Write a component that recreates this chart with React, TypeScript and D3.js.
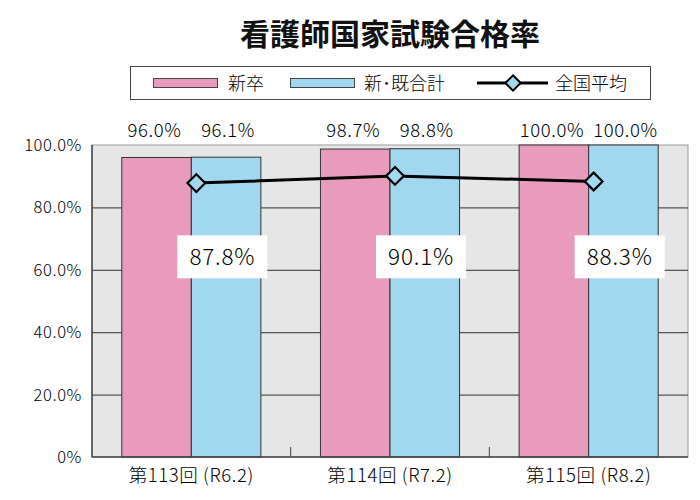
import { useEffect, useRef } from 'react'
import * as d3 from 'd3'

const categories = ['第113回 (R6.2)', '第114回 (R7.2)', '第115回 (R8.2)']
const shinsotsu = [96.0, 98.7, 100.0]
const goukei = [96.1, 98.8, 100.0]
const zenkoku = [87.8, 90.1, 88.3]
const yTicks = [0, 20, 40, 60, 80, 100]

const PINK = '#e89bbb'
const BLUE = '#a2d8ef'
const FONT = '"Noto Sans CJK JP", "Noto Sans", sans-serif'

export default function App() {
  const svgRef = useRef<SVGSVGElement>(null)

  useEffect(() => {
    if (!svgRef.current) return
    const svg = d3.select(svgRef.current)
    svg.selectAll('*').remove()

    const width = 700
    const height = 500
    const margin = { top: 145, right: 12, bottom: 43, left: 92 }
    const innerWidth = width - margin.left - margin.right
    const innerHeight = height - margin.top - margin.bottom

    svg.append('rect').attr('width', width).attr('height', height).attr('fill', '#fff')

    // Title
    svg.append('text')
      .attr('x', 390).attr('y', 45)
      .attr('text-anchor', 'middle')
      .attr('font-family', FONT)
      .attr('font-weight', 700)
      .attr('font-size', 30)
      .attr('fill', '#111')
      .text('看護師国家試験合格率')

    // Legend
    const lg = svg.append('g').attr('font-family', FONT).attr('font-size', 18).attr('font-weight', 300)
    lg.append('rect')
      .attr('x', 130.5).attr('y', 66.5).attr('width', 520).attr('height', 33)
      .attr('fill', '#fff').attr('stroke', '#444').attr('stroke-width', 1)
    lg.append('rect').attr('x', 153.5).attr('y', 78.5).attr('width', 64).attr('height', 9)
      .attr('fill', PINK).attr('stroke', '#444')
    lg.append('text').attr('x', 228).attr('y', 90).text('新卒')
    lg.append('rect').attr('x', 290.5).attr('y', 78.5).attr('width', 64).attr('height', 9)
      .attr('fill', BLUE).attr('stroke', '#444')
    lg.append('text').attr('x', 364).attr('y', 90).text('新･既合計')
    lg.append('line').attr('x1', 477).attr('x2', 548).attr('y1', 83).attr('y2', 83)
      .attr('stroke', '#000').attr('stroke-width', 3)
    lg.append('path')
      .attr('d', d3.symbol(d3.symbolDiamond2, 150)())
      .attr('transform', 'translate(513,83)')
      .attr('fill', BLUE).attr('stroke', '#000').attr('stroke-width', 2)
    lg.append('text').attr('x', 555).attr('y', 90).text('全国平均')

    const g = svg.append('g').attr('transform', `translate(${margin.left},${margin.top})`)
      .attr('font-family', FONT).attr('font-weight', 300)

    const x = d3.scaleBand().domain(categories).range([0, innerWidth]).paddingInner(0.3).paddingOuter(0.15)
    const xCat = d3.scaleBand().domain(categories).range([0, innerWidth])
    const y = d3.scaleLinear().domain([0, 100]).range([innerHeight, 0])

    g.append('rect').attr('width', innerWidth).attr('height', innerHeight)
      .attr('fill', '#e6e6e6').attr('stroke', '#999').attr('stroke-width', 1)

    // grid lines
    g.selectAll('line.grid')
      .data(yTicks.filter(t => t > 0 && t < 100))
      .join('line')
      .attr('class', 'grid')
      .attr('x1', 0).attr('x2', innerWidth)
      .attr('y1', d => y(d) + 0.5).attr('y2', d => y(d) + 0.5)
      .attr('stroke', '#555').attr('stroke-width', 1.2)

    const half = x.bandwidth() / 2
    const data = categories.map((c, i) => ({ c, a: shinsotsu[i], b: goukei[i], avg: zenkoku[i] }))

    g.selectAll('rect.pink').data(data).join('rect')
      .attr('class', 'pink')
      .attr('x', d => x(d.c)!).attr('width', half)
      .attr('y', d => y(d.a)).attr('height', d => innerHeight - y(d.a))
      .attr('fill', PINK).attr('stroke', '#333').attr('stroke-width', 1)

    g.selectAll('rect.blue').data(data).join('rect')
      .attr('class', 'blue')
      .attr('x', d => x(d.c)! + half).attr('width', half)
      .attr('y', d => y(d.b)).attr('height', d => innerHeight - y(d.b))
      .attr('fill', BLUE).attr('stroke', '#333').attr('stroke-width', 1)

    // bar value labels above plot
    const labelY = -8
    g.selectAll('text.la').data(data).join('text')
      .attr('x', d => x(d.c)! + half / 2 - 2).attr('y', labelY)
      .attr('text-anchor', 'middle').attr('font-size', 18.5)
      .attr('letter-spacing', 0.6)
      .text(d => d.a.toFixed(1) + '%')
    g.selectAll('text.lb').data(data).join('text')
      .attr('x', d => x(d.c)! + half * 1.5 + 2).attr('y', labelY)
      .attr('text-anchor', 'middle').attr('font-size', 18.5)
      .attr('letter-spacing', 0.6)
      .text(d => d.b.toFixed(1) + '%')

    // axes lines
    g.append('line').attr('x1', 0).attr('x2', 0).attr('y1', 0).attr('y2', innerHeight)
      .attr('stroke', '#444').attr('stroke-width', 1.5)
    g.append('line').attr('x1', 0).attr('x2', innerWidth).attr('y1', innerHeight).attr('y2', innerHeight)
      .attr('stroke', '#444').attr('stroke-width', 1.5)

    // category separator ticks
    g.selectAll('line.sep').data(categories.slice(1)).join('line')
      .attr('class', 'sep')
      .attr('x1', d => xCat(d)!).attr('x2', d => xCat(d)!)
      .attr('y1', innerHeight - 10).attr('y2', innerHeight)
      .attr('stroke', '#444')

    // y tick labels
    g.selectAll('text.yt').data(yTicks).join('text')
      .attr('class', 'yt')
      .attr('x', -10).attr('y', d => y(d) + 6)
      .attr('text-anchor', 'end').attr('font-size', 16.5)
      .attr('letter-spacing', 0.6)
      .text(d => (d === 0 ? '0%' : d.toFixed(1) + '%'))

    // x labels
    g.selectAll('text.xt').data(categories).join('text')
      .attr('class', 'xt')
      .attr('x', d => xCat(d)! + xCat.bandwidth() / 2).attr('y', innerHeight + 25)
      .attr('text-anchor', 'middle').attr('font-size', 18.5)
      .attr('letter-spacing', 0.6)
      .text(d => d)

    // average line
    const cx = (c: string) => x(c)! + half + 5
    const line = d3.line<typeof data[0]>().x(d => cx(d.c)).y(d => y(d.avg))
    g.append('path').datum(data).attr('d', line)
      .attr('fill', 'none').attr('stroke', '#000').attr('stroke-width', 3)
    g.selectAll('path.mk').data(data).join('path')
      .attr('class', 'mk')
      .attr('d', d3.symbol(d3.symbolDiamond2, 200)())
      .attr('transform', d => `translate(${cx(d.c)},${y(d.avg)})`)
      .attr('fill', BLUE).attr('stroke', '#000').attr('stroke-width', 2.2)

    // avg labels in white boxes
    const boxY = y(64)
    const lab = g.selectAll('g.al').data(data).join('g')
      .attr('class', 'al')
      .attr('transform', d => `translate(${x(d.c)! + half + 31},${boxY})`)
    lab.append('rect').attr('x', -45).attr('y', -22).attr('width', 90).attr('height', 43).attr('fill', '#fff')
    lab.append('text').attr('y', 8).attr('text-anchor', 'middle')
      .attr('font-size', 22.5).attr('letter-spacing', 0.8)
      .text(d => d.avg.toFixed(1) + '%')
  }, [])

  return <svg ref={svgRef} width={700} height={500} style={{ display: 'block', margin: -8 }} />
}
